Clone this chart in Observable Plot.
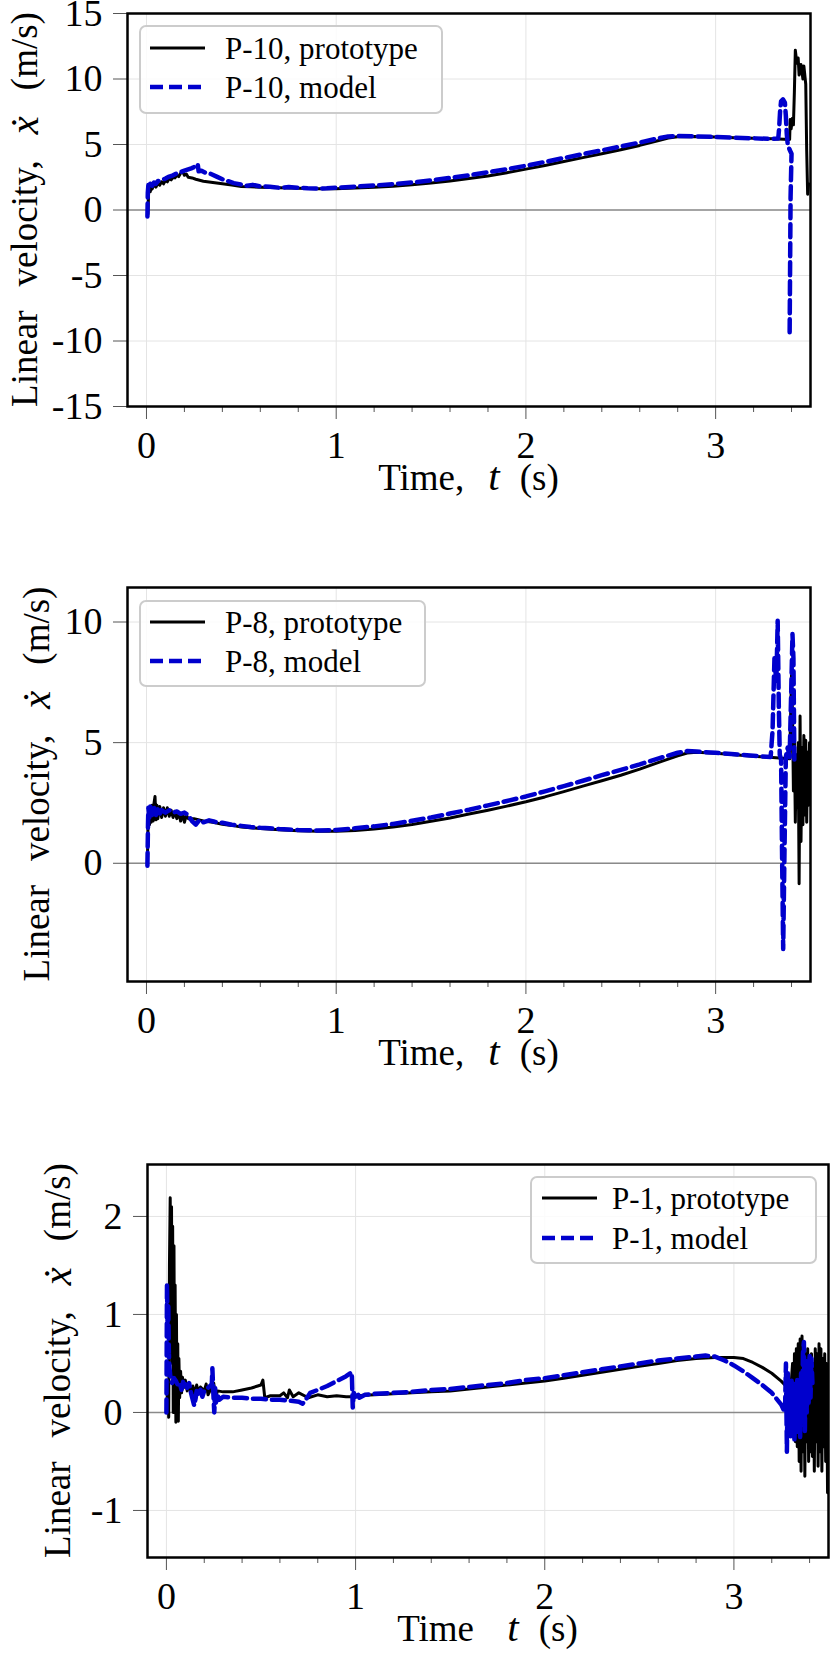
<!DOCTYPE html>
<html><head><meta charset="utf-8">
<script src="https://cdn.jsdelivr.net/npm/d3@7"></script>
<script src="https://cdn.jsdelivr.net/npm/@observablehq/plot@0.6"></script>
<style>
body{margin:0;background:#fff;}
#wrap{position:relative;width:831px;height:1661px;overflow:hidden;}
#wrap svg{position:absolute;left:0;}
#wrap svg text{font-family:"Liberation Serif","Noto Serif","Noto Serif CJK SC","Times New Roman",Times,"Nimbus Roman","FreeSerif","DejaVu Serif",serif !important;}
</style></head><body><div id="wrap"></div>
<script>
// ---------- data (t in s, velocity in m/s) ----------
const p10Prototype = [[0.008,-0.3],[0.011,1.2],[0.015,1.6],[0.02,1.4],[0.025,1.8],[0.03,1.6],[0.04,1.95],[0.05,1.75],[0.06,2.05],[0.07,1.9],[0.08,2.15],[0.09,2.0],[0.1,2.25],[0.11,2.15],[0.12,2.4],[0.13,2.3],[0.14,2.5],[0.15,2.45],[0.16,2.65],[0.17,2.55],[0.18,2.8],[0.19,2.95],[0.2,2.65],[0.21,2.75],[0.22,2.5],[0.24,2.45],[0.26,2.35],[0.3,2.2],[0.35,2.1],[0.4,2.0],[0.45,1.9],[0.5,1.8],[0.55,1.77],[0.6,1.74],[0.7,1.7],[0.8,1.66],[0.9,1.63],[1.0,1.63],[1.1,1.67],[1.2,1.74],[1.3,1.82],[1.4,1.93],[1.5,2.07],[1.6,2.22],[1.7,2.4],[1.8,2.6],[1.9,2.85],[2.0,3.12],[2.1,3.4],[2.2,3.7],[2.3,4.0],[2.4,4.3],[2.5,4.6],[2.6,4.93],[2.7,5.3],[2.75,5.5],[2.8,5.6],[2.9,5.62],[3.0,5.57],[3.1,5.52],[3.2,5.47],[3.3,5.43],[3.39,5.38],[3.393,6.9],[3.398,6.2],[3.405,7.0],[3.41,6.5],[3.415,9.0],[3.42,12.2],[3.428,11.2],[3.435,11.6],[3.44,10.3],[3.45,11.1],[3.46,10.0],[3.465,11.0],[3.475,9.6],[3.48,4.5],[3.485,1.2],[3.49,2.0]];
const p10Model = [[0.005,-0.5],[0.007,1.3],[0.01,1.9],[0.015,1.7],[0.02,2.0],[0.03,1.85],[0.04,2.1],[0.05,2.0],[0.06,2.2],[0.08,2.3],[0.1,2.4],[0.12,2.55],[0.14,2.65],[0.16,2.8],[0.18,2.9],[0.2,3.0],[0.22,3.1],[0.24,3.2],[0.26,3.35],[0.27,3.5],[0.275,2.95],[0.29,3.0],[0.31,2.85],[0.34,2.75],[0.37,2.55],[0.4,2.35],[0.43,2.2],[0.46,2.05],[0.5,1.95],[0.53,1.85],[0.56,1.92],[0.6,1.8],[0.65,1.78],[0.7,1.7],[0.75,1.75],[0.8,1.7],[0.85,1.66],[0.9,1.64],[0.95,1.66],[1.0,1.7],[1.1,1.78],[1.2,1.87],[1.3,1.98],[1.4,2.1],[1.5,2.27],[1.6,2.45],[1.7,2.65],[1.8,2.88],[1.9,3.12],[2.0,3.38],[2.1,3.67],[2.2,3.97],[2.3,4.27],[2.4,4.55],[2.5,4.85],[2.6,5.15],[2.7,5.48],[2.75,5.62],[2.8,5.65],[2.9,5.62],[3.0,5.57],[3.1,5.52],[3.2,5.47],[3.3,5.43],[3.33,5.45],[3.335,6.3],[3.34,7.6],[3.345,8.3],[3.355,8.45],[3.365,8.2],[3.37,7.2],[3.375,5.8],[3.38,5.0],[3.39,4.6],[3.4,4.3],[3.395,1.0],[3.39,-9.5]];

const p8Prototype = [[0.005,0.0],[0.008,1.5],[0.012,2.2],[0.016,1.6],[0.02,2.3],[0.025,1.7],[0.03,2.4],[0.035,1.75],[0.04,2.5],[0.045,2.77],[0.05,1.8],[0.055,2.4],[0.06,1.85],[0.07,2.35],[0.08,1.9],[0.09,2.3],[0.1,1.95],[0.11,2.3],[0.12,1.95],[0.13,2.2],[0.14,1.9],[0.15,2.15],[0.16,1.85],[0.17,2.1],[0.18,1.75],[0.19,2.05],[0.2,1.7],[0.21,2.0],[0.22,1.85],[0.25,1.85],[0.3,1.75],[0.35,1.7],[0.4,1.62],[0.45,1.57],[0.5,1.5],[0.6,1.44],[0.7,1.39],[0.8,1.35],[0.9,1.33],[1.0,1.33],[1.1,1.36],[1.2,1.42],[1.3,1.5],[1.4,1.61],[1.5,1.74],[1.6,1.88],[1.7,2.04],[1.8,2.2],[1.9,2.37],[2.0,2.55],[2.1,2.75],[2.2,2.97],[2.3,3.2],[2.4,3.42],[2.5,3.65],[2.6,3.9],[2.7,4.18],[2.8,4.45],[2.85,4.57],[2.9,4.6],[3.0,4.56],[3.1,4.5],[3.2,4.44],[3.3,4.38],[3.39,4.33],[3.395,6.0],[3.4,7.9],[3.405,6.2],[3.41,3.0],[3.415,5.2],[3.42,1.7],[3.425,4.5],[3.43,2.3],[3.435,5.0],[3.44,-0.85],[3.445,6.1],[3.45,0.9],[3.455,4.8],[3.46,1.6],[3.465,5.3],[3.47,2.0],[3.475,5.1],[3.48,1.7],[3.485,4.6],[3.49,2.4],[3.495,5.0],[3.5,2.5]];
const p8Model = [[0.005,-0.1],[0.008,1.6],[0.01,2.3],[0.015,1.9],[0.02,2.35],[0.03,2.0],[0.04,2.3],[0.05,2.0],[0.06,2.25],[0.07,2.05],[0.08,2.2],[0.1,2.1],[0.12,2.2],[0.14,2.1],[0.16,2.15],[0.18,2.05],[0.2,2.1],[0.22,2.0],[0.24,1.75],[0.26,1.6],[0.28,1.8],[0.3,1.7],[0.33,1.78],[0.36,1.72],[0.4,1.68],[0.45,1.6],[0.5,1.55],[0.55,1.5],[0.6,1.47],[0.65,1.45],[0.7,1.42],[0.75,1.4],[0.8,1.38],[0.85,1.37],[0.9,1.36],[1.0,1.38],[1.1,1.45],[1.2,1.53],[1.3,1.63],[1.4,1.76],[1.5,1.9],[1.6,2.06],[1.7,2.22],[1.8,2.4],[1.9,2.58],[2.0,2.77],[2.1,2.98],[2.2,3.2],[2.3,3.42],[2.4,3.65],[2.5,3.87],[2.6,4.1],[2.7,4.35],[2.8,4.58],[2.85,4.65],[2.9,4.63],[3.0,4.58],[3.1,4.52],[3.2,4.46],[3.29,4.4],[3.3,5.5],[3.31,8.5],[3.32,7.5],[3.327,10.05],[3.333,6.5],[3.338,4.5],[3.345,4.3],[3.35,0.5],[3.356,-3.55],[3.362,0.0],[3.37,4.4],[3.38,4.8],[3.39,4.4],[3.398,7.0],[3.405,9.5],[3.41,8.5],[3.415,4.3]];

const p1Prototype = [[0.0,0.0],[0.008,0.3],[0.012,-0.05],[0.016,1.5],[0.02,2.19],[0.024,1.2],[0.027,2.1],[0.03,0.5],[0.033,1.9],[0.036,0.0],[0.04,1.7],[0.043,0.1],[0.046,1.3],[0.05,-0.1],[0.053,1.0],[0.056,0.0],[0.06,0.7],[0.063,-0.09],[0.066,0.55],[0.07,0.15],[0.075,0.42],[0.08,0.2],[0.085,0.36],[0.09,0.25],[0.1,0.33],[0.11,0.22],[0.12,0.3],[0.13,0.2],[0.14,0.27],[0.15,0.18],[0.16,0.28],[0.17,0.2],[0.18,0.26],[0.2,0.22],[0.21,0.29],[0.22,0.18],[0.24,0.26],[0.25,0.3],[0.26,0.15],[0.27,0.22],[0.3,0.21],[0.35,0.21],[0.4,0.23],[0.45,0.25],[0.5,0.28],[0.51,0.33],[0.52,0.15],[0.55,0.17],[0.6,0.17],[0.62,0.2],[0.64,0.15],[0.65,0.23],[0.67,0.16],[0.7,0.2],[0.75,0.15],[0.8,0.18],[0.85,0.16],[0.9,0.17],[0.95,0.16],[0.98,0.16],[1.0,0.17],[1.1,0.18],[1.2,0.19],[1.3,0.2],[1.4,0.21],[1.5,0.22],[1.6,0.24],[1.7,0.26],[1.8,0.28],[1.9,0.3],[2.0,0.32],[2.1,0.35],[2.2,0.38],[2.3,0.41],[2.4,0.44],[2.5,0.47],[2.6,0.5],[2.7,0.53],[2.8,0.55],[2.9,0.56],[3.0,0.56],[3.05,0.55],[3.1,0.51],[3.15,0.46],[3.2,0.4],[3.25,0.32],[3.28,0.26],[3.3,0.22],[3.31,0.5],[3.315,-0.2],[3.32,0.6],[3.325,-0.3],[3.33,0.65],[3.335,-0.35],[3.34,0.7],[3.345,-0.5],[3.35,0.75],[3.355,-0.6],[3.36,0.78],[3.365,-0.4],[3.37,0.7],[3.375,-0.65],[3.38,0.6],[3.385,-0.3],[3.39,0.65],[3.395,-0.5],[3.4,0.55],[3.405,-0.4],[3.41,0.6],[3.415,-0.45],[3.42,0.5],[3.425,-0.6],[3.43,0.65],[3.435,-0.3],[3.44,0.6],[3.445,-0.55],[3.45,0.7],[3.455,-0.4],[3.46,0.65],[3.465,-0.6],[3.47,0.55],[3.475,-0.35],[3.48,0.6],[3.485,-0.5],[3.49,0.5],[3.495,-0.82],[3.5,0.3]];
const p1Model = [[0.0,0.0],[0.003,1.31],[0.006,0.9],[0.01,1.1],[0.013,0.6],[0.016,0.46],[0.02,0.38],[0.026,0.33],[0.03,0.3],[0.04,0.35],[0.05,0.32],[0.06,0.28],[0.07,0.3],[0.08,0.23],[0.09,0.33],[0.1,0.28],[0.11,0.25],[0.12,0.3],[0.13,0.2],[0.147,0.07],[0.155,0.15],[0.16,0.22],[0.17,0.18],[0.18,0.23],[0.19,0.16],[0.2,0.22],[0.21,0.24],[0.22,0.25],[0.23,0.27],[0.24,0.29],[0.243,0.45],[0.248,0.2],[0.253,0.0],[0.258,0.25],[0.262,0.1],[0.27,0.18],[0.28,0.13],[0.3,0.16],[0.35,0.15],[0.4,0.15],[0.45,0.14],[0.5,0.14],[0.55,0.13],[0.6,0.13],[0.65,0.12],[0.7,0.11],[0.72,0.09],[0.74,0.14],[0.76,0.2],[0.8,0.23],[0.85,0.27],[0.9,0.32],[0.95,0.37],[0.98,0.41],[0.985,0.05],[0.99,0.2],[1.0,0.16],[1.01,0.2],[1.02,0.15],[1.05,0.18],[1.1,0.19],[1.2,0.2],[1.3,0.21],[1.4,0.23],[1.5,0.24],[1.6,0.26],[1.7,0.28],[1.8,0.3],[1.9,0.33],[2.0,0.35],[2.1,0.38],[2.2,0.41],[2.3,0.44],[2.4,0.47],[2.5,0.5],[2.6,0.53],[2.7,0.55],[2.8,0.57],[2.85,0.58],[2.9,0.57],[2.95,0.53],[3.0,0.48],[3.05,0.42],[3.1,0.35],[3.15,0.28],[3.2,0.2],[3.25,0.08],[3.27,0.0],[3.275,0.5],[3.28,-0.4],[3.285,0.4],[3.29,-0.2],[3.295,0.3],[3.3,-0.25],[3.305,0.35],[3.31,-0.15],[3.315,0.3],[3.32,-0.3],[3.325,0.25],[3.33,-0.1],[3.335,0.35],[3.34,-0.2],[3.345,0.3],[3.35,-0.25],[3.355,0.4],[3.36,-0.1],[3.365,0.6],[3.37,0.72],[3.375,-0.2],[3.38,0.55],[3.385,0.0],[3.39,0.5],[3.395,0.1],[3.4,0.6],[3.405,0.15],[3.41,0.55],[3.415,0.3]];

const xDomain = [-0.1, 3.5];
const xTicks = [0, 1, 2, 3];
const xMinorTicks = [0.2,0.4,0.6,0.8,1.2,1.4,1.6,1.8,2.2,2.4,2.6,2.8,3.2,3.4];
const p10YDomain = [-15, 15];
const p10YTicks = [-15, -10, -5, 0, 5, 10, 15];
const p8YDomain = [-4.9, 11.43];
const p8YTicks = [0, 5, 10];
const p1YDomain = [-1.48, 2.53];
const p1YTicks = [-1, 0, 1, 2];
const seriesNames = ["P-10", "P-8", "P-1"];
const seriesSuffix = [", prototype", ", model"];

// ---------- styling ----------
const BLUE = "#0000cd";
const DASH = "13,6";
const FONT = "Liberation Serif, Noto Serif, DejaVu Serif, serif";

const panels = [
  {name: seriesNames[0], proto: p10Prototype, model: p10Model, yDomain: p10YDomain, yTicks: p10YTicks,
   top: 0, height: 520, mt: 13, mb: 114, ml: 127, mr: 21,
   legend: {x: 140, y: 26, w: 302, h: 87, r1: 48, r2: 87, lx: 150, tx: 225},
   xlab: "Time,", ylabX: 24},
  {name: seriesNames[1], proto: p8Prototype, model: p8Model, yDomain: p8YDomain, yTicks: p8YTicks,
   top: 520, height: 560, mt: 67, mb: 99, ml: 127, mr: 21,
   legend: {x: 140, y: 81, w: 285, h: 85, r1: 102, r2: 141, lx: 150, tx: 225},
   xlab: "Time,", ylabX: 36},
  {name: seriesNames[2], proto: p1Prototype, model: p1Model, yDomain: p1YDomain, yTicks: p1YTicks,
   top: 1080, height: 581, mt: 84, mb: 104, ml: 147, mr: 3,
   legend: {x: 531, y: 97, w: 285, h: 86, r1: 118, r2: 158, lx: 542, tx: 612},
   xlab: "Time ", ylabX: 57}
];

const wrap = document.getElementById("wrap");

for (const p of panels) {
  const svg = Plot.plot({
    width: 831,
    height: p.height,
    marginTop: p.mt, marginBottom: p.mb, marginLeft: p.ml, marginRight: p.mr,
    style: {fontSize: "38px", background: "transparent", overflow: "visible", color: "black"},
    x: {domain: xDomain},
    y: {domain: p.yDomain},
    marks: [
      Plot.gridX(xTicks, {stroke: "#e4e4e4", strokeOpacity: 1, strokeWidth: 1}),
      Plot.gridY(p.yTicks, {stroke: "#e4e4e4", strokeOpacity: 1, strokeWidth: 1}),
      Plot.ruleY([0], {stroke: "#8a8a8a", strokeWidth: 1.4}),
      Plot.line(p.proto, {x: d => d[0], y: d => d[1], stroke: "black", strokeWidth: 3, clip: true}),
      Plot.line(p.model, {x: d => d[0], y: d => d[1], stroke: BLUE, strokeWidth: 4.5, strokeDasharray: DASH, clip: true}),
      Plot.axisX(xMinorTicks, {tickSize: 6, tickFormat: () => "", stroke: "#555", label: null}),
      Plot.axisX(xTicks, {tickSize: 13, tickPadding: 12, tickFormat: d => String(d), stroke: "#555", fill: "black", label: null}),
      Plot.axisY(p.yTicks, {tickSize: 14, tickPadding: 11, tickFormat: d => String(d), stroke: "#555", fill: "black", label: null}),
      Plot.frame({stroke: "black", strokeWidth: 2.5})
    ]
  });
  svg.setAttribute("font-family", FONT);
  svg.style.top = p.top + "px";
  wrap.appendChild(svg);

  const s = d3.select(svg);
  const frameBottom = p.height - p.mb;
  const cx = (p.ml + (831 - p.mr)) / 2;
  const cy = (p.mt + frameBottom) / 2;

  // x-axis label
  const xl = s.append("text")
    .attr("x", cx).attr("y", frameBottom + 84)
    .attr("text-anchor", "middle")
    .attr("font-size", 37).attr("fill", "black");
  xl.append("tspan").text(p.xlab);
  xl.append("tspan").attr("dx", 24).attr("font-style", "italic").attr("font-size", 41).text("t");
  xl.append("tspan").attr("dx", 20).text("(s)");

  // y-axis label
  const yl = s.append("text")
    .attr("transform", `translate(${p.ylabX},${cy}) rotate(-90)`)
    .attr("text-anchor", "middle").attr("dominant-baseline", "central")
    .attr("font-size", 37).attr("fill", "black");
  yl.append("tspan").text("Linear");
  yl.append("tspan").attr("dx", 24).text("velocity,");
  yl.append("tspan").attr("dx", 26).attr("font-style", "italic").attr("font-size", 41).text("ẋ");
  yl.append("tspan").attr("dx", 26).text("(m/s)");

  // legend
  const L = p.legend;
  const g = s.append("g").attr("text-anchor", "start");
  g.append("rect").attr("x", L.x).attr("y", L.y).attr("width", L.w).attr("height", L.h)
    .attr("rx", 6).attr("fill", "white").attr("fill-opacity", 0.85)
    .attr("stroke", "#cccccc").attr("stroke-width", 2);
  g.append("line").attr("x1", L.lx).attr("x2", L.lx + 55).attr("y1", L.r1).attr("y2", L.r1)
    .attr("stroke", "black").attr("stroke-width", 3);
  g.append("line").attr("x1", L.lx).attr("x2", L.lx + 55).attr("y1", L.r2).attr("y2", L.r2)
    .attr("stroke", BLUE).attr("stroke-width", 4.5).attr("stroke-dasharray", DASH);
  g.append("text").attr("x", L.tx).attr("y", L.r1).attr("dy", "0.35em")
    .attr("font-size", 31).attr("fill", "black")
    .text(p.name + seriesSuffix[0]);
  g.append("text").attr("x", L.tx).attr("y", L.r2).attr("dy", "0.35em")
    .attr("font-size", 31).attr("fill", "black")
    .text(p.name + seriesSuffix[1]);
}
</script>
</body></html>
